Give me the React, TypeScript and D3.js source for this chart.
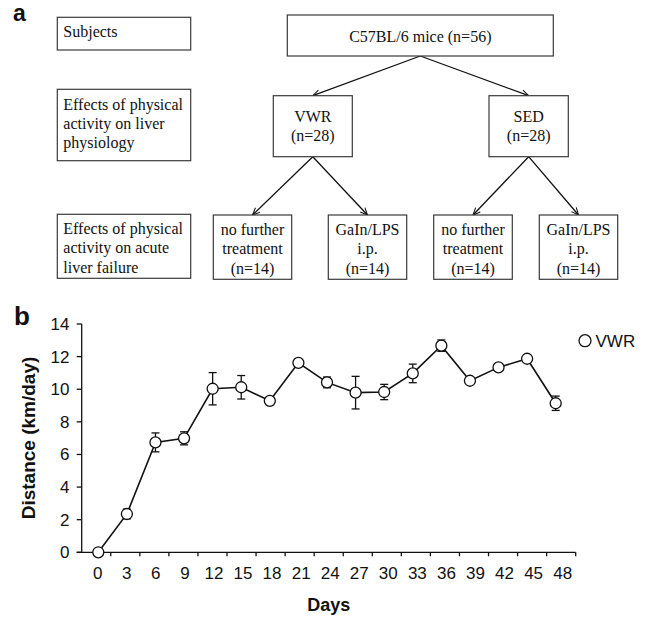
import React, { useEffect, useRef } from "react";
import * as d3 from "d3";

// ---- Flowchart content ----
const rowLabels: string[][] = [
  ["Subjects"],
  ["Effects of physical", "activity on liver", "physiology"],
  ["Effects of physical", "activity on acute", "liver failure"],
];
const rootLabel = ["C57BL/6 mice (n=56)"];
const groupLabels: string[][] = [
  ["VWR", "(n=28)"],
  ["SED", "(n=28)"],
];
const leafLabels: string[][] = [
  ["no further", "treatment", "(n=14)"],
  ["GaIn/LPS", "i.p.", "(n=14)"],
  ["no further", "treatment", "(n=14)"],
  ["GaIn/LPS", "i.p.", "(n=14)"],
];

// ---- Chart data ----
const days = [0, 3, 6, 9, 12, 15, 18, 21, 24, 27, 30, 33, 36, 39, 42, 45, 48];
const dayLabels = days.map(String);
const distance = [0, 2.35, 6.74, 6.99, 10.03, 10.12, 9.29, 11.62, 10.42, 9.79, 9.83, 10.97, 12.67, 10.52, 11.34, 11.87, 9.14];
const sem = [0, 0.3, 0.58, 0.4, 0.99, 0.72, 0.15, 0.15, 0.33, 1.0, 0.47, 0.57, 0.35, 0.15, 0.15, 0.15, 0.44];
const yTicks = [0, 2, 4, 6, 8, 10, 12, 14];
const seriesName = "VWR";

export default function App() {
  const ref = useRef<SVGSVGElement>(null);

  useEffect(() => {
    const svg = d3.select(ref.current);
    svg.selectAll("*").remove();

    const serif = "'Liberation Serif', 'Times New Roman', serif";
    const sans = "'Liberation Sans', Arial, sans-serif";
    const boxStroke = "#3a3a3a";

    // marker
    const defs = svg.append("defs");
    defs
      .append("marker")
      .attr("id", "arr")
      .attr("viewBox", "0 0 10 10")
      .attr("refX", 10)
      .attr("refY", 5)
      .attr("markerWidth", 8)
      .attr("markerHeight", 8)
      .attr("markerUnits", "userSpaceOnUse")
      .attr("orient", "auto")
      .append("path")
      .attr("d", "M1,1 L10,5 L1,9")
      .attr("fill", "none")
      .attr("stroke", "#111")
      .attr("stroke-width", 1.3);

    // panel labels
    svg.append("text").attr("x", 13).attr("y", 21).text("a")
      .attr("font-family", sans).attr("font-weight", "bold").attr("font-size", 23).attr("fill", "#111");
    svg.append("text").attr("x", 14).attr("y", 325).text("b")
      .attr("font-family", sans).attr("font-weight", "bold").attr("font-size", 26).attr("fill", "#111");

    const fc = svg.append("g");
    const lineH = 19.3;

    function box(x0: number, x1: number, y0: number, y1: number) {
      fc.append("rect").attr("x", x0).attr("y", y0).attr("width", x1 - x0).attr("height", y1 - y0)
        .attr("fill", "white").attr("stroke", boxStroke).attr("stroke-width", 1.2);
    }
    function lines(ls: string[], x: number, yFirst: number, anchor: string) {
      ls.forEach((l, i) => {
        fc.append("text").attr("x", x).attr("y", yFirst + i * lineH).text(l)
          .attr("text-anchor", anchor).attr("font-family", serif).attr("font-size", 16).attr("fill", "#111");
      });
    }

    // left column
    const leftX0 = 57.3, leftX1 = 190.7;
    const rowY = [
      [17.3, 50, 37.3],
      [89.3, 160.7, 109.6],
      [214.3, 278.3, 234],
    ];
    rowLabels.forEach((ls, i) => {
      box(leftX0, leftX1, rowY[i][0], rowY[i][1]);
      lines(ls, 63.3, rowY[i][2], "start");
    });

    // root
    const root = { x0: 287.3, x1: 553.3, y0: 15, y1: 56 };
    const groups = [
      { x0: 273.3, x1: 352.3, y0: 95.7, y1: 156.7 },
      { x0: 489, x1: 568.3, y0: 95.7, y1: 156.7 },
    ];
    const leaves = [
      { x0: 213.3, x1: 291.7 },
      { x0: 328.3, x1: 406.7 },
      { x0: 433.7, x1: 512.3 },
      { x0: 539.3, x1: 617.7 },
    ].map((b) => ({ ...b, y0: 215, y1: 279.3 }));

    const cx = (b: { x0: number; x1: number }) => (b.x0 + b.x1) / 2;
    const arrow = (x1: number, y1: number, x2: number, y2: number) =>
      fc.append("line").attr("x1", x1).attr("y1", y1).attr("x2", x2).attr("y2", y2)
        .attr("stroke", "#111").attr("stroke-width", 1.3).attr("marker-end", "url(#arr)");

    groups.forEach((g) => arrow(cx(root), root.y1, cx(g), g.y0));
    groups.forEach((g, gi) => {
      [leaves[gi * 2], leaves[gi * 2 + 1]].forEach((l) => arrow(cx(g), g.y1, cx(l), l.y0));
    });

    box(root.x0, root.x1, root.y0, root.y1);
    lines(rootLabel, cx(root), 42, "middle");
    groups.forEach((g, i) => {
      box(g.x0, g.x1, g.y0, g.y1);
      lines(groupLabels[i], cx(g), 122, "middle");
    });
    leaves.forEach((l, i) => {
      box(l.x0, l.x1, l.y0, l.y1);
      lines(leafLabels[i], cx(l), 235, "middle");
    });

    // ---- chart ----
    const plotLeft = 81.7, plotRight = 575.7;
    const y = d3.scaleLinear().domain([0, 14]).range([552.3, 324]);
    const xBand = d3.scaleBand().domain(dayLabels).range([plotLeft, plotRight]).paddingInner(0).paddingOuter(0);
    const x = d3.scaleLinear().domain([0, 48]).range([98.3, 555.7]);

    const ch = svg.append("g");

    // y axis
    ch.append("line").attr("x1", plotLeft).attr("x2", plotLeft).attr("y1", y(14)).attr("y2", y(0) + 0.5)
      .attr("stroke", "#111").attr("stroke-width", 1.3);
    yTicks.forEach((t) => {
      ch.append("line").attr("x1", plotLeft - 5).attr("x2", plotLeft).attr("y1", y(t)).attr("y2", y(t))
        .attr("stroke", "#111").attr("stroke-width", 1.3);
      ch.append("text").attr("x", 69.5).attr("y", y(t) + 6).text(String(t))
        .attr("text-anchor", "end").attr("font-family", sans).attr("font-size", 17).attr("fill", "#111");
    });

    // x axis
    ch.append("line").attr("x1", plotLeft - 5).attr("x2", plotRight).attr("y1", y(0)).attr("y2", y(0))
      .attr("stroke", "#111").attr("stroke-width", 1.3);
    dayLabels.forEach((d) => {
      const edge = (xBand(d) as number) + xBand.bandwidth();
      ch.append("line").attr("x1", edge).attr("x2", edge).attr("y1", y(0)).attr("y2", y(0) + 4)
        .attr("stroke", "#111").attr("stroke-width", 1.3);
      ch.append("text").attr("x", (xBand(d) as number) + xBand.bandwidth() / 2 + 1.5).attr("y", 578.5).text(d)
        .attr("text-anchor", "middle").attr("font-family", sans).attr("font-size", 17).attr("fill", "#111");
    });

    // axis titles
    ch.append("text").attr("transform", `translate(35,438) rotate(-90)`).text("Distance (km/day)")
      .attr("text-anchor", "middle").attr("font-family", sans).attr("font-weight", "bold").attr("font-size", 19).attr("fill", "#111");
    ch.append("text").attr("x", 328.7).attr("y", 611).text("Days")
      .attr("text-anchor", "middle").attr("font-family", sans).attr("font-weight", "bold").attr("font-size", 18).attr("fill", "#111");

    // line
    const pts = days.map((d, i) => ({ d, v: distance[i], e: sem[i] }));
    const line = d3.line<{ d: number; v: number }>().x((p) => x(p.d)).y((p) => y(p.v));
    ch.append("path").attr("d", line(pts) as string).attr("fill", "none").attr("stroke", "#111").attr("stroke-width", 1.6);

    // error bars
    pts.forEach((p) => {
      if (p.e <= 0) return;
      const px = x(p.d);
      ch.append("line").attr("x1", px).attr("x2", px).attr("y1", y(p.v - p.e)).attr("y2", y(p.v + p.e))
        .attr("stroke", "#111").attr("stroke-width", 1.3);
      [p.v - p.e, p.v + p.e].forEach((v) => {
        ch.append("line").attr("x1", px - 4).attr("x2", px + 4).attr("y1", y(v)).attr("y2", y(v))
          .attr("stroke", "#111").attr("stroke-width", 1.3);
      });
    });

    // markers
    ch.selectAll("circle.pt").data(pts).enter().append("circle")
      .attr("cx", (p) => x(p.d)).attr("cy", (p) => y(p.v)).attr("r", 5.5)
      .attr("fill", "white").attr("stroke", "#111").attr("stroke-width", 1.3);

    // legend
    ch.append("circle").attr("cx", 585).attr("cy", 340.7).attr("r", 6)
      .attr("fill", "white").attr("stroke", "#111").attr("stroke-width", 1.3);
    ch.append("text").attr("x", 595.5).attr("y", 347).text(seriesName)
      .attr("font-family", sans).attr("font-size", 17).attr("fill", "#111");
  }, []);

  return (
    <svg
      ref={ref}
      width={650}
      height={618}
      style={{ position: "absolute", left: 0, top: 0, background: "white" }}
    />
  );
}
